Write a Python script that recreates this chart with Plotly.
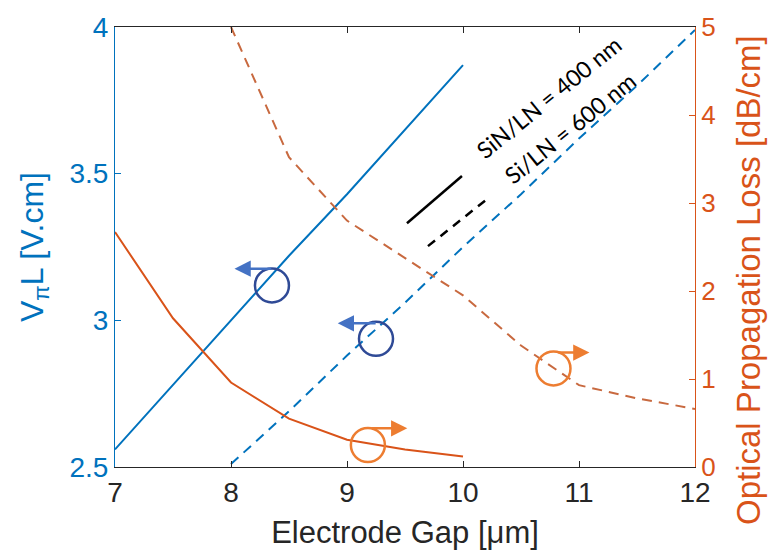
import plotly.graph_objects as go

# ---- data ----
gap_sin = [7, 7.5, 8, 8.5, 9, 9.5, 10]
vpil_sin = [2.56, 2.78, 3.0, 3.22, 3.43, 3.65, 3.87]
loss_sin = [2.67, 1.69, 0.96, 0.55, 0.31, 0.20, 0.12]

gap_si = [8, 8.5, 9, 9.5, 10, 10.5, 11, 11.5, 12]
vpil_si = [2.51, 2.69, 2.88, 3.06, 3.25, 3.43, 3.62, 3.80, 3.99]
loss_si = [5.0, 3.52, 2.8, 2.38, 1.95, 1.38, 0.93, 0.78, 0.66]

x_ticks = [7, 8, 9, 10, 11, 12]
y_left_ticks = [2.5, 3, 3.5, 4]
y_right_ticks = [0, 1, 2, 3, 4, 5]

BLUE = "#0072BD"
ORANGE = "#D95319"
ORANGE_D = "#C8693F"
GRAY = "#262626"
NAVY = "#2F4A96"
ARROW_BLUE = "#4472C4"
ARROW_OR = "#ED7D31"
FONT = "Liberation Sans"

fig = go.Figure()
fig.add_trace(go.Scatter(x=gap_sin, y=vpil_sin, mode="lines",
                         line=dict(color=BLUE, width=2), yaxis="y"))
fig.add_trace(go.Scatter(x=gap_si, y=vpil_si, mode="lines",
                         line=dict(color=BLUE, width=2, dash="10px,7px"), yaxis="y"))
fig.add_trace(go.Scatter(x=gap_sin, y=loss_sin, mode="lines",
                         line=dict(color=ORANGE, width=2), yaxis="y2"))
fig.add_trace(go.Scatter(x=gap_si, y=loss_si, mode="lines",
                         line=dict(color=ORANGE_D, width=2, dash="10px,7px"), yaxis="y2"))

shapes = []
annotations = []


def circle(xc, yc, yref, color):
    shapes.append(dict(type="circle", xref="x", yref=yref,
                       xsizemode="pixel", ysizemode="pixel",
                       xanchor=xc, yanchor=yc,
                       x0=-17, x1=17, y0=-17, y1=17,
                       line=dict(color=color, width=2.5)))


def arrow(x_tail, x_tip, y, yref, color):
    annotations.append(dict(x=x_tip, y=y, xref="x", yref=yref,
                            ax=x_tail, ay=y, axref="x", ayref=yref,
                            showarrow=True, arrowhead=2, arrowsize=1.3,
                            arrowwidth=2.5, arrowcolor=color, text=""))


# blue markers (left axis)
circle(8.353, 3.119, "y", NAVY)
arrow(8.36, 8.03, 3.176, "y", ARROW_BLUE)
circle(9.25, 2.937, "y", NAVY)
arrow(9.26, 8.92, 2.99, "y", ARROW_BLUE)
# orange markers (right axis)
circle(9.18, 0.25, "y2", ARROW_OR)
arrow(9.2, 9.52, 0.44, "y2", ARROW_OR)
circle(10.78, 1.12, "y2", ARROW_OR)
arrow(10.81, 11.09, 1.30, "y2", ARROW_OR)

# legend lines
shapes.append(dict(type="line", xref="x", yref="y", x0=9.517, y0=3.331, x1=9.991, y1=3.492,
                   line=dict(color="black", width=2.5)))
shapes.append(dict(type="line", xref="x", yref="y", x0=9.698, y0=3.253, x1=10.19, y1=3.408,
                   line=dict(color="black", width=2.5, dash="9px,7px")))

annotations.append(dict(x=10.74, y=3.76, xref="x", yref="y", text="SiN/LN = 400 nm",
                        showarrow=False, textangle=-39,
                        font=dict(family="Lato", size=23, color="black")))
annotations.append(dict(x=10.92, y=3.655, xref="x", yref="y", text="Si/LN = 600 nm",
                        showarrow=False, textangle=-39,
                        font=dict(family="Lato", size=23, color="black")))

# right axis title (placed as text so it can extend below the plot like the reference)
annotations.append(dict(x=1, y=0.425, xref="paper", yref="paper", xanchor="center",
                        yanchor="middle", xshift=53, showarrow=False, textangle=-90,
                        text="Optical Propagation Loss [dB/cm]",
                        font=dict(family=FONT, size=33, color=ORANGE)))

fig.update_layout(
    width=769, height=557,
    margin=dict(l=115, r=74, t=21, b=90),
    paper_bgcolor="white", plot_bgcolor="white",
    showlegend=False,
    font=dict(family=FONT),
    shapes=shapes, annotations=annotations,
    xaxis=dict(range=[7, 12], tickvals=x_ticks, ticks="inside", ticklen=6,
               tickcolor=GRAY, showline=True, linecolor=GRAY, linewidth=1,
               mirror="ticks", showgrid=False, zeroline=False,
               tickfont=dict(family=FONT, size=28, color=GRAY),
               title=dict(text="Electrode Gap [μm]", font=dict(family=FONT, size=31, color=GRAY),
                          standoff=14)),
    yaxis=dict(range=[2.5, 4], tickvals=y_left_ticks, ticktext=["2.5", "3", "3.5", "4"],
               ticks="inside", ticklen=6, tickcolor=BLUE,
               showline=True, linecolor=BLUE, linewidth=1, showgrid=False, zeroline=False,
               tickfont=dict(family=FONT, size=28, color=BLUE),
               title=dict(text="V<sub>π</sub>L [V.cm]", font=dict(family=FONT, size=32, color=BLUE),
                          standoff=16)),
    yaxis2=dict(range=[0, 5], tickvals=y_right_ticks, overlaying="y", side="right",
                ticks="inside", ticklen=6, tickcolor=ORANGE,
                showline=True, linecolor=ORANGE, linewidth=1, showgrid=False, zeroline=False,
                tickfont=dict(family=FONT, size=26, color=ORANGE)),
)

fig.write_html("out.html")
